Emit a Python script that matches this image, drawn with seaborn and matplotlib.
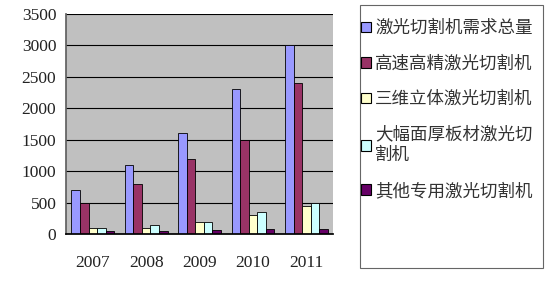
import matplotlib
matplotlib.use("Agg")
import matplotlib.pyplot as plt
import seaborn as sns
import pandas as pd
from matplotlib.patches import Patch, Rectangle

years = ["2007", "2008", "2009", "2010", "2011"]
series_names = ["激光切割机需求总量", "高速高精激光切割机", "三维立体激光切割机",
                "大幅面厚板材激光切\n割机", "其他专用激光切割机"]
total = [700, 1100, 1600, 2300, 3000]
highspeed = [500, 800, 1200, 1500, 2400]
three_d = [100, 100, 200, 300, 450]
large = [100, 150, 200, 350, 500]
other = [50, 50, 60, 80, 80]
colors = ["#9999ff", "#993366", "#ffffcc", "#ccffff", "#660066"]

rows = []
for name, vals in zip(series_names, [total, highspeed, three_d, large, other]):
    for y, v in zip(years, vals):
        rows.append({"year": y, "series": name, "value": v})
df = pd.DataFrame(rows)

sns.set_theme(style="white")
plt.rcParams['font.family'] = ['Liberation Serif', 'Noto Sans CJK SC']

fig = plt.figure(figsize=(5.6, 2.81), dpi=100)
ax = fig.add_axes([0.118, 0.167, 0.477, 0.783])
ax.set_facecolor("#c0c0c0")
sns.barplot(data=df, x="year", y="value", hue="series", palette=colors,
            edgecolor="black", linewidth=0.6, width=0.8, ax=ax, legend=False,
            saturation=1)
ax.set_ylim(0, 3500)
ax.set_yticks(range(0, 3501, 500))
ax.yaxis.grid(True, color="black", linewidth=0.8)
ax.set_axisbelow(True)
ax.set_xlabel("")
ax.set_ylabel("")
for s in ["top", "right"]:
    ax.spines[s].set_visible(False)
ax.spines["left"].set_color("#606060")
ax.spines["bottom"].set_color("black")
ax.tick_params(axis="y", labelsize=12.5, length=0, pad=7, colors="black")
ax.tick_params(axis="x", labelsize=12.5, length=0, pad=15, colors="black")
for t in ax.get_yticklabels() + ax.get_xticklabels():
    t.set_color("#222222")

# legend frame
fig.patches.append(Rectangle((360 / 560, 1 - 268 / 281), 183 / 560, 263 / 281,
                             transform=fig.transFigure, fill=False,
                             edgecolor="#666666", linewidth=0.8))
handles = [Patch(facecolor=c, edgecolor="black", linewidth=0.8) for c in colors]
leg = fig.legend(handles, series_names, loc="upper left",
                 bbox_to_anchor=(361 / 560, 1 - 19 / 281), frameon=False,
                 prop={"family": ["Noto Sans CJK SC"], "size": 12.6},
                 handlelength=0.55, handleheight=0.55, handletextpad=0.25,
                 labelspacing=1.0, borderpad=0.0, borderaxespad=0)
for t in leg.get_texts():
    t.set_color("#333333")
    t.set_linespacing(1.2)

fig.savefig("out.png", dpi=100)
